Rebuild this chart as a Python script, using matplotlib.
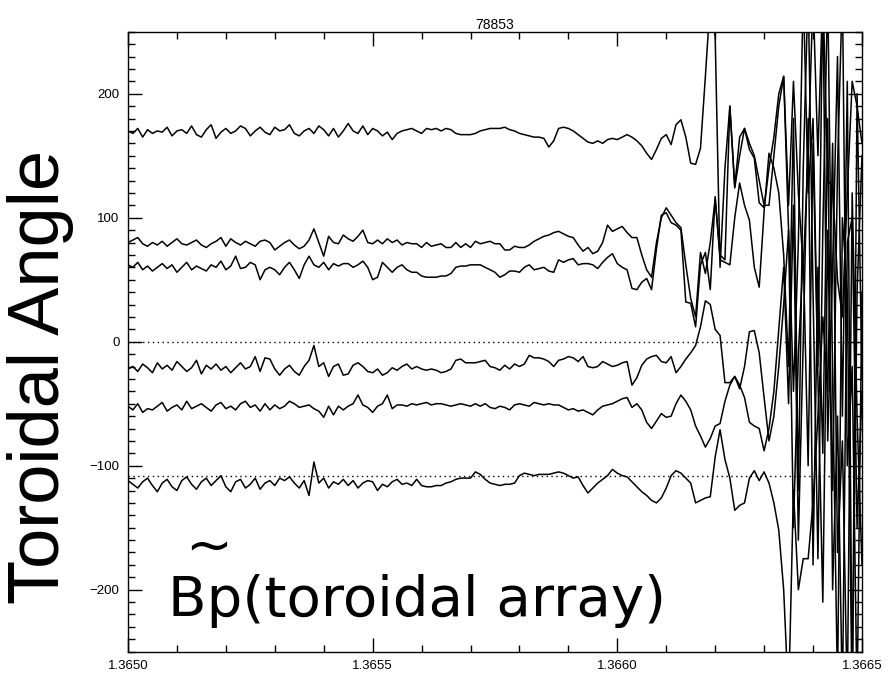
'''
Toroidal angle of the Bp toroidal array, shot 78853
'''
import numpy as np
from matplotlib import pyplot as plt
from matplotlib.ticker import MultipleLocator, FormatStrFormatter

shot = '78853'
t_start, t_end = 1.3650, 1.3665
ref_levels = [0, -108]

# traces, one value every ~1e-5 s
trace_a = [170, 168, 172, 165, 171, 168, 170, 169, 173, 166, 170, 171, 168, 174, 167, 165, 171, 175, 164, 169, 172,
           168, 170, 174, 172, 166, 170, 173, 169, 167, 173, 170, 171, 175, 168, 166, 170, 172, 168, 174, 171,
           166, 172, 165, 170, 176, 170, 168, 174, 167, 172, 170, 166, 169, 163, 168, 170, 171, 172, 170, 168,
           172, 171, 172, 170, 172, 171, 168, 167, 167, 167, 168, 170, 171, 172, 172, 172, 173, 171, 170, 168, 167, 166, 165, 165, 164,
           157, 162, 172, 173, 172, 170, 167, 164, 161, 160, 162, 160, 163, 164, 163, 165, 167, 165, 162, 158,
           152, 147, 155, 164, 167, 159, 175, 179, 165, 144, 143, 156, 214, 275, 246,
           60, 140, 190, 125, 165, 172, 160, 150, 130, 110, 110, 150, 190, 214, 110, 210, 120, 60, 150, 280,
           150, 285, 130, 125, 50, 20, 120, 210, 190, 160]
trace_b = [80, 82, 84, 79, 77, 80, 78, 81, 77, 80, 83, 79, 78, 80, 82, 78, 76, 79, 81, 84, 77, 83, 80, 78, 81, 79, 77, 81,
           82, 80, 74, 77, 80, 82, 78, 75, 77, 82, 91, 80, 69, 85, 80, 79, 86, 83, 81, 85, 90, 80, 79, 82, 79, 83, 80, 82,
           78, 80, 79, 79, 76, 80, 77, 78, 79, 76, 76, 80, 76, 79, 76, 81, 79, 80, 81, 79, 79, 74, 74, 77, 76, 76, 78, 81,
           83, 85, 86, 88, 89,
           87, 85, 84, 78, 73, 76, 71, 73, 80, 94, 89, 91, 93, 88, 84, 84, 70, 58,
           52, 80, 100, 108, 102, 96, 92, 62, 35, 20, 72, 55, 80, 115, 70, 66, 190, 124, 150, 172,
           155, 148, 112, 108, 140, 165, 200, 214, 90, -40, 80, 285, 120, 180, -20, 285, -80, 60, 230, -60,
           210, -280, 40, 150]
trace_c = [62, 60, 64, 58, 61, 57, 60, 63, 59, 62, 56, 60, 64, 58, 61, 59, 57, 62, 60, 65, 58, 61, 69, 59, 60, 64, 62, 50,
           58, 60, 58, 54, 60, 64, 58, 51, 62, 69, 62, 60, 64, 58, 63, 61, 63, 63, 60, 62, 65, 60, 50, 52, 64, 60, 56, 60,
           62, 58, 56,
           56, 53, 52, 52, 52, 53, 53, 55, 60, 61, 61, 62, 62, 62, 60, 58, 56, 52, 54, 57, 57, 56, 60, 62, 58, 59, 60, 57,
           56, 66,
           64, 66, 67, 62, 63, 63, 62, 59, 64, 68, 71, 63, 60, 58, 43, 42, 48, 51, 42, 75, 102, 104, 96, 94, 90,
           32, 31, 12, 62, 72, 42, 117, 66, 64, 62, 100, 128, 110, 98, 60, 44, 105, 152, 140, 120, 70, -20,
           180, -120, 140, 285, 40, -175, 90, 285, -30, -280, 100, 40, -300, 200, -30]
trace_d = [-22, -20, -24, -18, -21, -25, -17, -22, -19, -23, -16, -20, -24, -21, -15, -26, -19, -22, -18, -23, -20, -25,
           -21, -17, -22, -20, -12, -24, -13,
           -14, -22, -27, -22, -19, -24, -27, -20, -15, -3, -20, -17, -28, -20, -18, -27, -26, -19, -17, -20, -24, -25,
           -22, -27, -25, -21, -23, -20, -18, -22,
           -20, -22, -23, -22, -23, -25, -24, -22, -15, -14, -17, -17, -17, -16, -15, -20, -21, -23, -19, -22, -18, -20,
           -18, -11, -13, -13, -14, -16, -20, -15,
           -14, -12, -13, -16, -12, -20, -21, -20, -16, -18, -20, -19, -17, -16, -35, -29, -19, -14, -12, -11, -16,
           -17, -12, -25, -20, -14, -9, -3, 12, 33, 30, 10, 5, -33, -33, -28, -38, -20, 8, 9, -9, -45, -80, -60,
           -20, 30, 90, -150, -10, 70, -100, 160, -30, -210, 90, -120, 140, 285, -100, -20, -290, 40]
trace_e = [-52, -55, -50, -57, -54, -55, -52, -49, -56, -53, -51, -55, -48, -54, -52, -50, -53, -56, -51, -49, -54, -52,
           -55, -50, -48, -53, -51, -56, -50,
           -55, -51, -54, -52, -48, -50, -53, -52, -51, -54, -56, -61, -52, -59, -52, -55, -52, -50, -43, -51, -53, -57,
           -52, -50, -43, -54, -51, -51, -52, -50,
           -51, -50, -49, -51, -50, -50, -51, -52, -51, -50, -51, -52, -50, -52, -50, -53, -54, -52, -53, -55, -51, -50,
           -51, -52, -49, -50, -51, -50, -51, -51,
           -53, -55, -54, -56, -55, -57, -59, -55, -52, -51, -50, -48, -46, -45, -53, -50, -55, -65, -70, -64, -58,
           -61, -60, -50, -43, -48, -55, -68, -76, -85, -78, -68, -66, -48, -35, -28, -35, -45, -65, -68, -70,
           -88, -70, -40, 10, 60, -50, 110, -160, 0, 180, -180, 60, -90, 180, -200, -60, -290, 80, 100, -150, -40]
trace_f = [-112, -115, -118, -113, -110, -116, -121, -114, -111, -117, -120, -112, -109, -115, -119, -113, -110, -116,
           -112, -108, -117, -121, -113, -111, -118, -115, -110, -119, -114,
           -112, -116, -110, -112, -109, -114, -118, -112, -124, -97, -114, -110, -118, -113, -115, -111, -116, -112,
           -118, -114, -112, -113, -120, -115, -117, -113, -111, -115, -114, -116,
           -111, -116, -117, -117, -116, -116, -114, -113, -111, -110, -110, -110, -105, -107, -111, -114, -115, -116,
           -115, -115, -114, -108, -106, -107, -108, -107, -107, -107, -106, -105,
           -106, -108, -110, -109, -116, -122, -118, -114, -111, -108, -103, -106, -108, -109, -113, -117, -121,
           -124, -128, -130, -126, -118, -108, -104, -106, -110, -114, -130, -128, -126, -125, -93, -71, -95,
           -110, -136, -132, -130, -110, -104, -112, -105, -114, -130, -152, -200, -290, -120, -200, -175, -175,
           -130, -60, 20, -40, 160, -170, -80, -290, 120, -60, -180]
traces = [trace_a, trace_b, trace_c, trace_d, trace_e, trace_f]

plt.rcParams['font.family'] = ['Liberation Sans', 'DejaVu Sans']
fig = plt.figure(figsize=(8.9, 6.78), dpi=100)
ax = fig.add_axes([0.1438, 0.0388, 0.8247, 0.9144])

for y in traces:
	t = np.linspace(t_start, t_end, len(y))
	ax.plot(t, y, color='black', lw=1.1)
for lev in ref_levels:
	ax.axhline(lev, color='black', lw=1.0, ls=(0, (1, 2.5)))

ax.set_xlim(t_start, t_end)
ax.set_ylim(-250, 250)
ax.xaxis.set_major_locator(MultipleLocator(0.0005))
ax.xaxis.set_minor_locator(MultipleLocator(0.0001))
ax.xaxis.set_major_formatter(FormatStrFormatter('%.4f'))
ax.yaxis.set_major_locator(MultipleLocator(100))
ax.yaxis.set_minor_locator(MultipleLocator(10))
ax.tick_params(which='both', direction='in', top=True, right=True, width=1.0, labelsize=9.5, pad=6)
ax.tick_params(which='major', length=10)
ax.tick_params(which='minor', length=5)
for s in ax.spines.values():
	s.set_linewidth(1.0)
ax.set_title(shot, fontsize=10, pad=2)

# big annotations
fig.text(41 / 890, 1 - 377 / 678, 'Toroidal Angle', rotation=90, ha='center', va='center', fontsize=52)
# tilde over the B sits on its own line of the same text
fig.text(168 / 890, 1 - 628 / 678, ' ~\nBp(toroidal array)', ha='left', va='bottom',
         fontsize=40.5, family='DejaVu Sans', linespacing=0.97)

plt.savefig('out.png', dpi=100)
